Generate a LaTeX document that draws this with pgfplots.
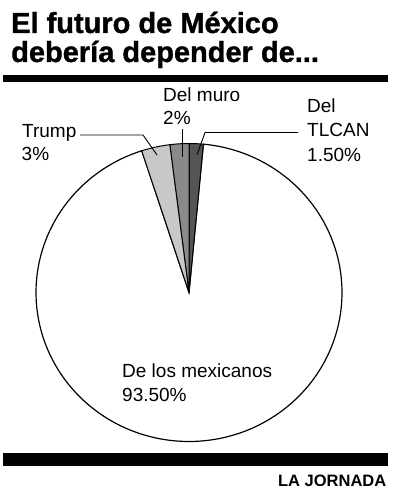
\documentclass[border=0pt]{standalone}
\usepackage{pgfplots}
\usepackage{pgfplotstable}
\pgfplotsset{compat=1.18}
\usepackage{fontspec}
\setmainfont{Liberation Sans}
\newfontfamily\titlefont[FakeBold=1.2]{Liberation Sans Bold}
\definecolor{gTrump}{HTML}{C8C8C8}
\definecolor{gMuro}{HTML}{8A8A8A}
\definecolor{gTlcan}{HTML}{555555}
\pgfplotstableread{
label value
TLCAN 1.5
Muro 2
Trump 3
Mexicanos 93.5
}\piedata
\begin{document}
\begin{tikzpicture}[x=1bp,y=1bp]
\path[use as bounding box] (0,0) rectangle (392,500);
\pgfplotstablegetelem{0}{value}\of\piedata \let\vA\pgfplotsretval
\pgfplotstablegetelem{1}{value}\of\piedata \let\vB\pgfplotsretval
\pgfplotstablegetelem{2}{value}\of\piedata \let\vC\pgfplotsretval
\pgfmathsetmacro\aA{90-3.6*\vA}
\pgfmathsetmacro\aB{\aA+3.6*\vA}
\pgfmathsetmacro\aC{\aB+3.6*\vB}
\pgfmathsetmacro\aD{\aC+3.6*\vC}
\pgfmathsetmacro\aE{\aA+360}
\begin{axis}[at={(0,0)},anchor=south west,scale only axis,
  width=392bp,height=500bp,xmin=0,xmax=392,ymin=0,ymax=500,
  y dir=reverse,hide axis,clip=false]
% bars
\fill (axis cs:3,75) rectangle (axis cs:388,82);
\fill (axis cs:3,453) rectangle (axis cs:388,466);
% title
\node[anchor=base west,inner sep=0pt,font=\fontsize{29bp}{29bp}\selectfont\titlefont] at (axis cs:11,33) {El futuro de México};
\node[anchor=base west,inner sep=0pt,font=\fontsize{29bp}{29bp}\selectfont\titlefont] at (axis cs:11,62) {debería depender de...};
\node[anchor=base east,inner sep=0pt,font=\fontsize{16.5bp}{18bp}\selectfont\bfseries] at (axis cs:386.5,486) {LA JORNADA};
% pie
\addplot[draw=black,line width=1.2pt,fill=white,domain=\aD:\aE,samples=200] ({189+153*cos(x)},{292.5-149*sin(x)}) -- (axis cs:189,292.5) -- cycle;
\addplot[draw=black,line width=1.0pt,fill=gTlcan,domain=\aA:\aB,samples=10] ({189+153*cos(x)},{292.5-149*sin(x)}) -- (axis cs:189,292.5) -- cycle;
\addplot[draw=black,line width=1.0pt,fill=gMuro,domain=\aB:\aC,samples=10] ({189+153*cos(x)},{292.5-149*sin(x)}) -- (axis cs:189,292.5) -- cycle;
\addplot[draw=black,line width=1.0pt,fill=gTrump,domain=\aC:\aD,samples=10] ({189+153*cos(x)},{292.5-149*sin(x)}) -- (axis cs:189,292.5) -- cycle;
% leader lines
\draw[line width=0.9pt] (axis cs:80,135) -- (axis cs:143,135) -- (axis cs:157,155);
\draw[line width=0.9pt] (axis cs:182,129) -- (axis cs:182,157);
\draw[line width=0.9pt] (axis cs:298,132.5) -- (axis cs:205,132.5) -- (axis cs:197,155);
% labels
\begin{scope}[every node/.style={anchor=base west,inner sep=0pt,font=\fontsize{19bp}{24bp}\selectfont}]
\node at (axis cs:22,137.5) {Trump};
\node at (axis cs:21.5,161) {3\%};
\node at (axis cs:163,101.5) {Del muro};
\node at (axis cs:163,125) {2\%};
\node at (axis cs:307,113) {Del};
\node at (axis cs:307,137) {TLCAN};
\node at (axis cs:307,161.5) {1.50\%};
\node at (axis cs:122,377) {De los mexicanos};
\node at (axis cs:122,401) {93.50\%};
\end{scope}
\end{axis}
\end{tikzpicture}
\end{document}
